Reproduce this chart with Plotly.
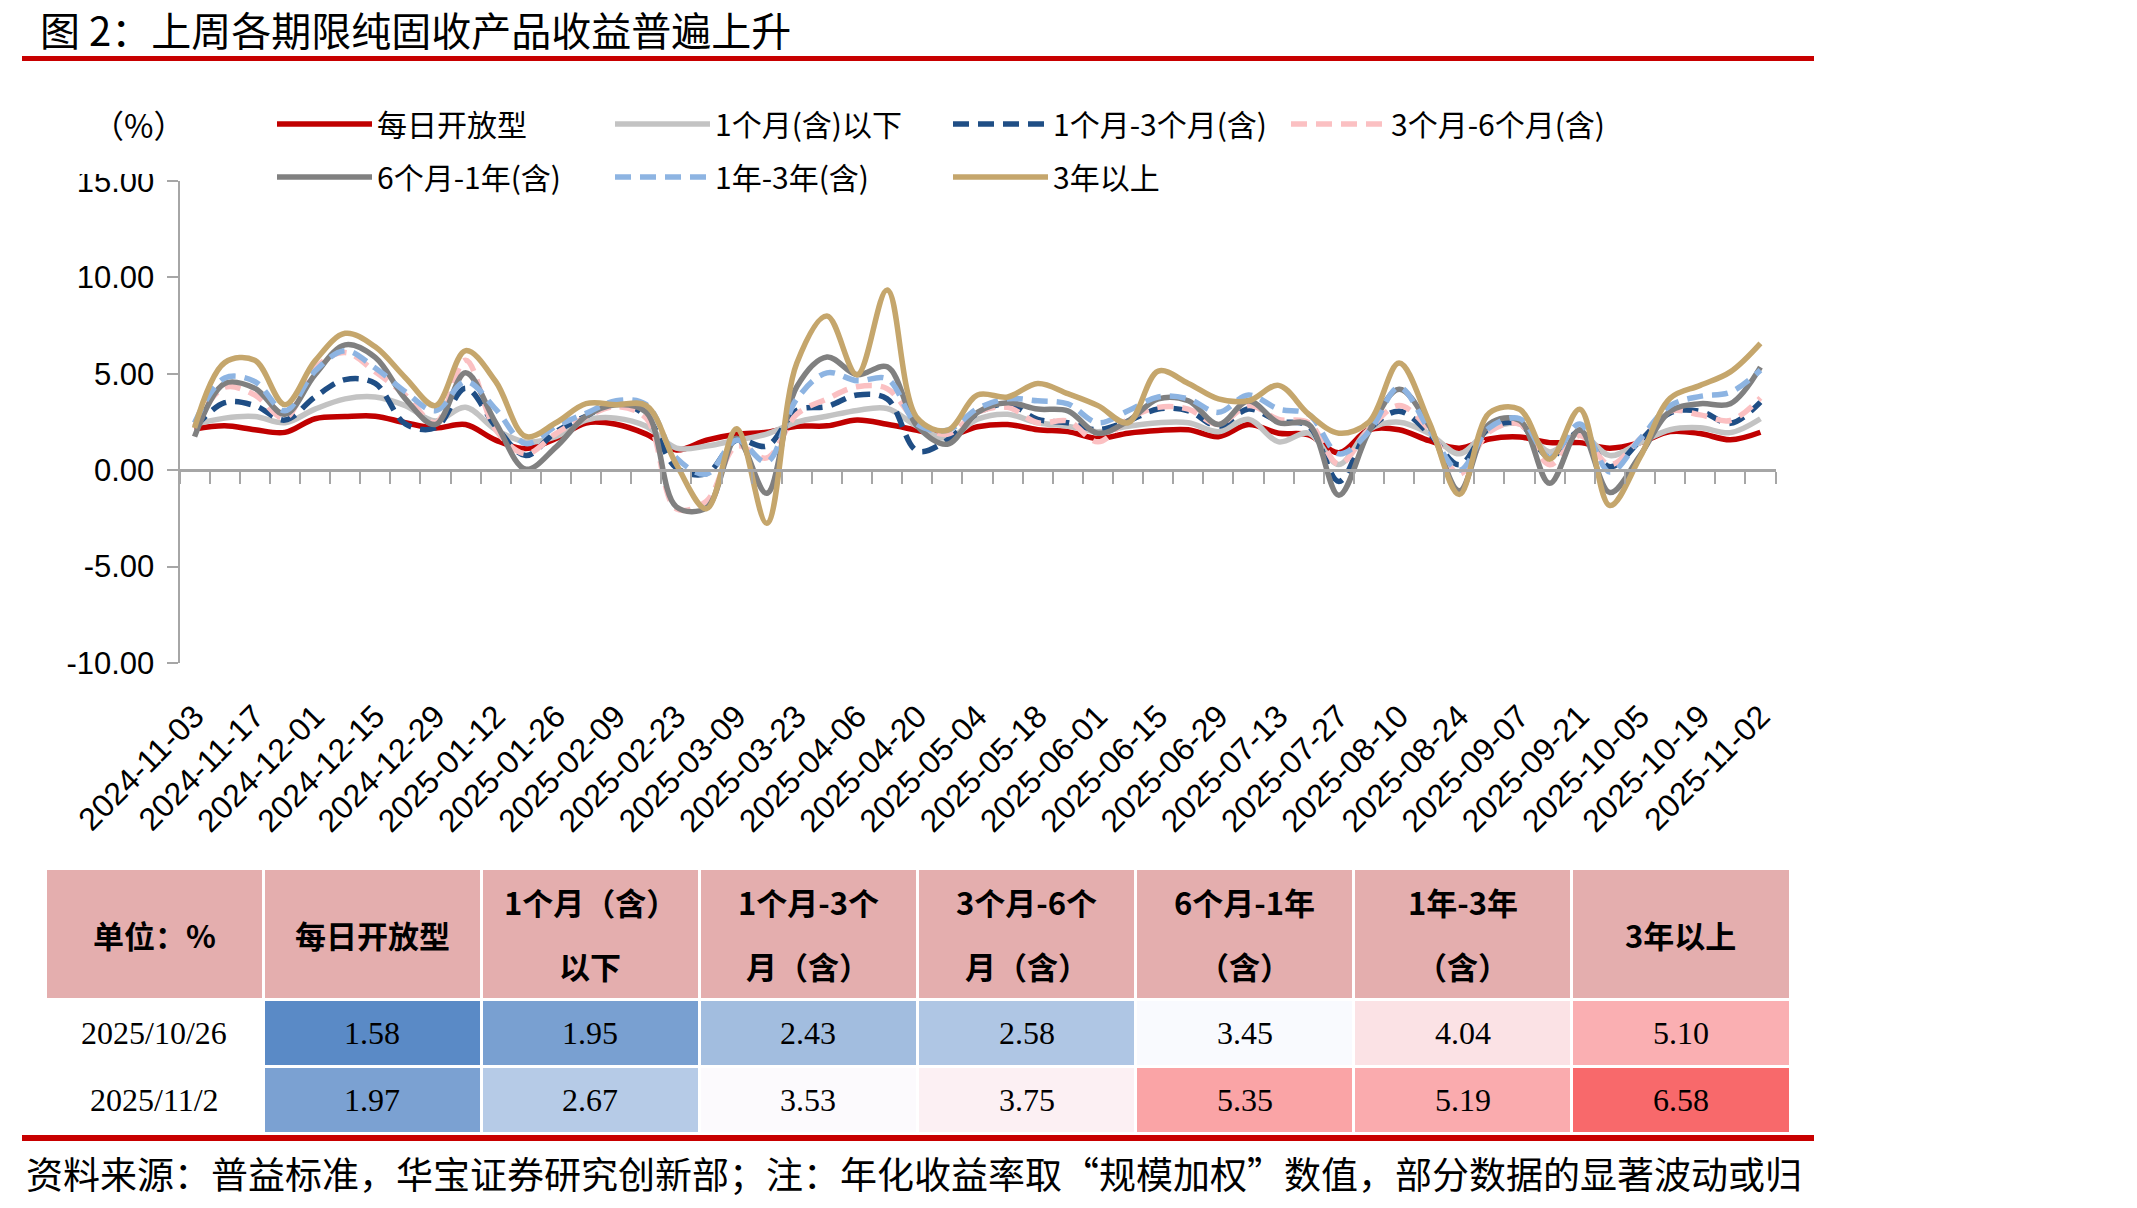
import numpy as np
import plotly.graph_objects as go

W, H = 2137, 1208

# ---------------- data ----------------
dates = [
    "2024-11-03", "2024-11-10", "2024-11-17", "2024-11-24", "2024-12-01", "2024-12-08",
    "2024-12-15", "2024-12-22", "2024-12-29", "2025-01-05", "2025-01-12", "2025-01-19",
    "2025-01-26", "2025-02-02", "2025-02-09", "2025-02-16", "2025-02-23", "2025-03-02",
    "2025-03-09", "2025-03-16", "2025-03-23", "2025-03-30", "2025-04-06", "2025-04-13",
    "2025-04-20", "2025-04-27", "2025-05-04", "2025-05-11", "2025-05-18", "2025-05-25",
    "2025-06-01", "2025-06-08", "2025-06-15", "2025-06-22", "2025-06-29", "2025-07-06",
    "2025-07-13", "2025-07-20", "2025-07-27", "2025-08-03", "2025-08-10", "2025-08-17",
    "2025-08-24", "2025-08-31", "2025-09-07", "2025-09-14", "2025-09-21", "2025-09-28",
    "2025-10-05", "2025-10-12", "2025-10-19", "2025-10-26", "2025-11-02",
]
tick_labels = [
    "2024-11-03", "2024-11-17", "2024-12-01", "2024-12-15", "2024-12-29", "2025-01-12",
    "2025-01-26", "2025-02-09", "2025-02-23", "2025-03-09", "2025-03-23", "2025-04-06",
    "2025-04-20", "2025-05-04", "2025-05-18", "2025-06-01", "2025-06-15", "2025-06-29",
    "2025-07-13", "2025-07-27", "2025-08-10", "2025-08-24", "2025-09-07", "2025-09-21",
    "2025-10-05", "2025-10-19", "2025-11-02",
]
y_tick_vals = [-10, -5, 0, 5, 10, 15]
y_tick_text = ["-10.00", "-5.00", "0.00", "5.00", "10.00", "15.00"]

daily_open = [2.13, 2.30, 2.10, 1.96, 2.67, 2.78, 2.80, 2.46, 2.19, 2.37, 1.56, 1.12, 1.65,
              2.45, 2.38, 1.87, 1.05, 1.56, 1.87, 1.97, 2.28, 2.30, 2.60, 2.38, 2.07, 1.76,
              2.25, 2.37, 2.10, 2.00, 1.65, 1.92, 2.06, 2.10, 1.74, 2.37, 1.92, 1.83, 0.90,
              2.10, 2.10, 1.53, 1.14, 1.62, 1.72, 1.43, 1.43, 1.14, 1.43, 2.00, 1.90, 1.58, 1.97]
m1_below = [2.37, 2.70, 2.78, 2.46, 3.17, 3.70, 3.80, 3.35, 2.55, 3.26, 2.10, 1.47, 1.74,
            2.60, 2.70, 2.28, 1.15, 1.25, 1.56, 1.87, 2.50, 2.80, 3.10, 3.20, 2.28, 1.66,
            2.65, 2.90, 2.46, 2.28, 2.00, 2.28, 2.46, 2.46, 2.00, 2.64, 1.47, 1.92, 0.30,
            2.10, 2.49, 1.90, 0.85, 2.10, 2.40, 0.95, 1.90, 0.76, 1.43, 2.10, 2.20, 1.95, 2.67]
m1_m3 = [2.20, 3.50, 3.35, 2.60, 3.80, 4.70, 4.50, 2.40, 2.20, 4.25, 2.28, 0.76, 2.00,
         2.80, 3.50, 2.80, 0.12, -0.18, 1.56, 1.25, 3.10, 3.30, 3.90, 3.70, 1.00, 1.56,
         2.95, 3.44, 2.64, 2.46, 2.10, 2.55, 3.17, 3.08, 2.28, 3.17, 2.55, 2.28, -0.58,
         2.10, 3.06, 1.90, 0.28, 2.20, 2.40, 0.66, 2.00, 0.18, 1.52, 2.97, 3.06, 2.43, 3.53]
m3_m6 = [2.28, 4.30, 3.90, 2.70, 5.30, 6.10, 5.10, 3.90, 2.46, 5.70, 2.10, 0.85, 1.90,
         2.75, 3.30, 2.70, -2.00, -1.60, 1.25, 0.64, 2.90, 3.70, 4.33, 4.23, 2.50, 1.87,
         3.00, 3.26, 2.46, 2.55, 1.47, 2.64, 3.26, 3.17, 2.37, 3.35, 2.64, 2.46, 0.31,
         2.10, 3.35, 2.10, -0.20, 2.00, 2.40, 0.28, 1.80, 0.28, 1.62, 3.06, 2.87, 2.58, 3.75]
m6_y1 = [1.74, 4.50, 4.25, 2.90, 4.96, 6.50, 5.85, 3.70, 2.37, 5.05, 2.46, 0.05, 1.20,
         2.80, 3.40, 3.00, -1.90, -1.95, 1.66, -1.20, 4.33, 5.87, 4.95, 5.36, 2.28, 1.35,
         3.00, 3.50, 3.17, 3.08, 1.92, 2.55, 3.70, 3.60, 2.37, 3.60, 2.46, 2.37, -1.30,
         2.00, 4.20, 2.30, -1.07, 2.40, 2.58, -0.68, 2.10, -1.16, 0.76, 3.06, 3.45, 3.45, 5.35]
y1_y3 = [2.45, 4.78, 4.60, 3.08, 5.14, 6.20, 5.30, 4.07, 3.08, 4.60, 3.17, 1.38, 2.28,
         2.95, 3.60, 3.40, 0.64, -0.20, 1.56, 0.43, 3.70, 5.05, 4.64, 4.74, 2.38, 2.07,
         3.20, 3.70, 3.60, 3.44, 2.46, 3.08, 3.80, 3.70, 3.00, 3.90, 3.17, 2.90, 0.85,
         2.00, 4.30, 2.10, 0.00, 2.20, 2.68, 0.66, 2.40, -0.10, 1.62, 3.35, 3.83, 4.04, 5.19]
y3_above = [2.19, 5.58, 5.70, 3.40, 5.67, 7.10, 6.40, 4.80, 3.35, 6.20, 4.60, 1.75, 2.46,
            3.45, 3.40, 3.35, 0.30, -2.00, 2.15, -2.75, 5.56, 8.00, 4.95, 9.35, 2.70, 2.07,
            3.90, 3.80, 4.50, 3.97, 3.35, 2.46, 5.14, 4.50, 3.70, 3.60, 4.40, 2.90, 1.92,
            2.50, 5.56, 2.49, -1.26, 2.97, 3.16, 0.57, 3.16, -1.83, 0.66, 3.73, 4.40, 5.10, 6.58]

series_names = ["每日开放型", "1个月(含)以下", "1个月-3个月(含)", "3个月-6个月(含)",
                "6个月-1年(含)", "1年-3年(含)", "3年以上"]

# header cells: (first line, second line); single-line headers have an empty first line
table_header_lines = [("", "单位：%"), ("", "每日开放型"), ("1个月（含）", "以下"),
                      ("1个月-3个", "月（含）"), ("3个月-6个", "月（含）"),
                      ("6个月-1年", "（含）"), ("1年-3年", "（含）"), ("", "3年以上")]
table_dates = ["2025/10/26", "2025/11/2"]
table_1026 = [1.58, 1.95, 2.43, 2.58, 3.45, 4.04, 5.10]
table_1102 = [1.97, 2.67, 3.53, 3.75, 5.35, 5.19, 6.58]

title_text = "图 2：上周各期限纯固收产品收益普遍上升"
source_text = "资料来源：普益标准，华宝证券研究创新部；注：年化收益率取“规模加权”数值，部分数据的显著波动或归"

# ---------------- styles ----------------
CJK = "Noto Sans CJK SC"
LAT = "Liberation Sans"
SERIF = "Liberation Serif"
AXIS_GRAY = "#A6A6A6"
styles = [
    dict(color="#C00000", dash="solid", legend="legend"),
    dict(color="#C3C3C3", dash="solid", legend="legend"),
    dict(color="#1F4E85", dash="16px,9px", legend="legend"),
    dict(color="#FBC0C2", dash="16px,9px", legend="legend"),
    dict(color="#808080", dash="solid", legend="legend2"),
    dict(color="#8DB4E2", dash="16px,9px", legend="legend2"),
    dict(color="#C5A66C", dash="solid", legend="legend2"),
]
all_series = [daily_open, m1_below, m1_m3, m3_m6, m6_y1, y1_y3, y3_above]


def px(xp):
    return xp / W


def py(yp):
    return 1 - yp / H


# plot area in pixels
PL, PR, PT, PB = 179.5, 1775.5, 181, 663
YMIN, YMAX = -10, 15
zero_pos = py(PB) + (0 - YMIN) / (YMAX - YMIN) * (py(PT) - py(PB))

# table geometry in pixels
T_LEFT, T_RIGHT, T_TOP = 45, 1790, 868
HEAD_H, ROW_H = 131, 67
NCOL = 8
COL_W = (T_RIGHT - T_LEFT) / NCOL

fig = go.Figure()
for name, vals, st in zip(series_names, all_series, styles):
    fig.add_trace(go.Scatter(
        x=dates, y=vals, mode="lines", name=name,
        line=dict(color=st["color"], width=5.5, dash=st["dash"], shape="spline", smoothing=1),
        legend=st["legend"], hoverinfo="skip",
    ))

# helper trace for the zero-crossing category axis
fig.add_trace(go.Scatter(x=dates, y=[None] * len(dates), xaxis="x2", yaxis="y",
                         mode="lines", showlegend=False, hoverinfo="skip"))


# table colours: Excel-like 3-colour scale (min blue, median white, max red)
def scale_color(v, vmin, vmid, vmax):
    lo, mid, hi = (0x5A, 0x8A, 0xC6), (0xFC, 0xFC, 0xFF), (0xF8, 0x69, 0x6B)
    if v <= vmid:
        t = (v - vmin) / (vmid - vmin)
        a, b = lo, mid
    else:
        t = (v - vmid) / (vmax - vmid)
        a, b = mid, hi
    c = [round(a[k] + (b[k] - a[k]) * t) for k in range(3)]
    return "rgb(%d,%d,%d)" % tuple(c)


allv = np.array(table_1026 + table_1102)
vmin, vmid, vmax = allv.min(), float(np.median(allv)), allv.max()
table_rows = [table_1026, table_1102]
cell_fill = [["white", "white"]] + [[scale_color(a, vmin, vmid, vmax), scale_color(b, vmin, vmid, vmax)]
                                     for a, b in zip(table_1026, table_1102)]

# table cells (fills / borders); the text is laid out as annotations so it can be
# vertically centred like in the reference
fig.add_trace(go.Table(
    domain=dict(x=[px(T_LEFT), px(T_RIGHT)], y=[py(1140), py(T_TOP)]),
    columnwidth=[1] * NCOL,
    header=dict(values=[""] * NCOL, fill_color="#E4AEAE", height=HEAD_H,
                line=dict(color="white", width=3), font=dict(size=10)),
    cells=dict(values=[["", ""]] * NCOL, fill_color=cell_fill, height=ROW_H,
               line=dict(color="white", width=3), font=dict(size=10)),
))

annotations = [
    dict(text=title_text, xref="paper", yref="paper", x=px(38), y=py(29.5), xanchor="left",
         yanchor="middle", showarrow=False, font=dict(family=CJK, size=40, color="black")),
    dict(text="（%）", xref="paper", yref="paper", x=px(138), y=py(124), xanchor="center",
         yanchor="middle", showarrow=False, font=dict(family=CJK, size=32, color="black")),
    dict(text=source_text, xref="paper", yref="paper", x=px(24), y=py(1173), xanchor="left",
         yanchor="middle", showarrow=False, font=dict(family=CJK, size=37, color="black")),
]


def cell_text(text, col, yc, font):
    return dict(text=text, xref="paper", yref="paper", x=px(T_LEFT + COL_W * (col + 0.5)),
                y=py(yc), xanchor="center", yanchor="middle", showarrow=False, font=font)


head_font = dict(family=CJK, size=31, color="black", weight="bold")
body_font = dict(family=SERIF + ", " + CJK, size=32, color="black")
for k, (l1, l2) in enumerate(table_header_lines):
    if l1:
        annotations.append(cell_text(l1, k, T_TOP + 33, head_font))
        annotations.append(cell_text(l2, k, T_TOP + 97, head_font))
    else:
        annotations.append(cell_text(l2, k, T_TOP + HEAD_H / 2 + 1, head_font))
for r, (d, vals) in enumerate(zip(table_dates, table_rows)):
    yc = T_TOP + HEAD_H + ROW_H * (r + 0.5)
    annotations.append(cell_text(d, 0, yc, body_font))
    for k, v in enumerate(vals):
        annotations.append(cell_text("%.2f" % v, k + 1, yc, body_font))

legend_common = dict(orientation="h", xanchor="left", yanchor="middle",
                     bgcolor="rgba(0,0,0,0)", borderwidth=0,
                     font=dict(family=CJK, size=30, color="black"),
                     entrywidth=228, entrywidthmode="pixels", itemwidth=95,
                     traceorder="normal")

fig.update_layout(
    width=W, height=H,
    margin=dict(l=0, r=0, t=0, b=0, autoexpand=False),
    paper_bgcolor="white", plot_bgcolor="white",
    showlegend=True,
    legend=dict(x=px(272), y=py(124), **legend_common),
    legend2=dict(x=px(272), y=py(177), **legend_common),
    xaxis=dict(
        domain=[px(PL), px(PR)], anchor="y", type="category", automargin=False,
        categoryorder="array", categoryarray=dates, range=[-0.5, len(dates) - 0.5],
        tickmode="array", tickvals=tick_labels, ticktext=tick_labels,
        tickangle=-45, ticks="", showline=False, showgrid=False, zeroline=False,
        tickfont=dict(family=LAT, size=32, color="black"), ticklabelstandoff=27,
    ),
    xaxis2=dict(
        overlaying="x", anchor="free", position=zero_pos, side="bottom", type="category",
        automargin=False,
        categoryorder="array", categoryarray=dates, range=[-0.5, len(dates) - 0.5],
        tickmode="linear", tick0=0, dtick=1, tickson="boundaries",
        ticks="outside", ticklen=12, tickwidth=2, tickcolor=AXIS_GRAY,
        showline=True, linecolor=AXIS_GRAY, linewidth=2.5,
        showticklabels=False, showgrid=False, zeroline=False,
    ),
    yaxis=dict(
        domain=[py(PB), py(PT)], anchor="x", range=[YMIN, YMAX], automargin=False,
        tickmode="array", tickvals=y_tick_vals, ticktext=y_tick_text,
        ticks="outside", ticklen=11, tickwidth=2, tickcolor=AXIS_GRAY,
        showline=True, linecolor=AXIS_GRAY, linewidth=2,
        showgrid=False, zeroline=False,
        tickfont=dict(family=LAT, size=31, color="black"), ticklabelstandoff=6,
    ),
    shapes=[
        dict(type="line", xref="paper", yref="paper", x0=px(22), x1=px(1814), y0=py(58.5), y1=py(58.5),
             line=dict(color="#C80000", width=5)),
        dict(type="line", xref="paper", yref="paper", x0=px(22), x1=px(1814), y0=py(1138), y1=py(1138),
             line=dict(color="#C80000", width=6)),
        dict(type="rect", xref="paper", yref="paper", x0=px(60), x1=px(176), y0=py(174), y1=py(140),
             fillcolor="white", line=dict(width=0), layer="above"),
    ],
    annotations=annotations,
)

fig.write_html("out.html")
